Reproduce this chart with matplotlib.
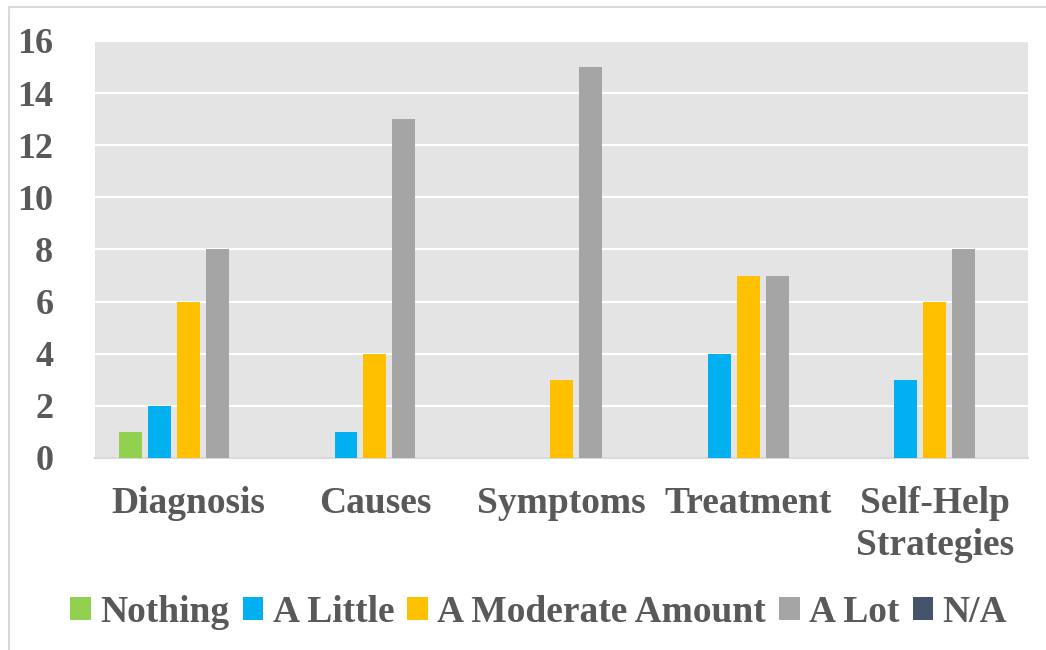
import numpy as np
import matplotlib.pyplot as plt
from matplotlib.patches import Rectangle

categories = ["Diagnosis", "Causes", "Symptoms", "Treatment", "Self-Help\nStrategies"]
series = ["Nothing", "A Little", "A Moderate Amount", "A Lot", "N/A"]
nothing = [1, 0, 0, 0, 0]
a_little = [2, 1, 0, 4, 3]
moderate = [6, 4, 3, 7, 6]
a_lot = [8, 13, 15, 7, 8]
na = [0, 0, 0, 0, 0]
colors = ["#92D050", "#00B0F0", "#FFC000", "#A5A5A5", "#44546A"]

plt.rcParams['font.family'] = ['Liberation Serif', 'DejaVu Serif']
plt.rcParams['font.weight'] = 'bold'
txt = "#595959"

fig = plt.figure(figsize=(10.46, 6.5), dpi=100)
ax = fig.add_axes([0.0908, 0.2954, 0.8922, 0.6416])
ax.set_facecolor("#E4E4E4")

x = np.arange(len(categories))
w = 0.123
step = 0.155
data = [nothing, a_little, moderate, a_lot, na]
for i, vals in enumerate(data):
    ax.bar(x + (i - 2) * step, vals, w, color=colors[i], label=series[i], zorder=3)

ax.set_xlim(-0.5, 4.5)
ax.set_ylim(0, 16)
ax.set_yticks(range(0, 17, 2))
ax.yaxis.grid(True, color="white", linewidth=1.5, zorder=1)
ax.set_axisbelow(True)
for s in ["top", "right", "left"]:
    ax.spines[s].set_visible(False)
ax.spines["bottom"].set_color("#D9D9D9")
ax.spines["bottom"].set_linewidth(1.5)
ax.tick_params(length=0)
ax.tick_params(axis="y", labelsize=26, labelcolor=txt, pad=30)
ax.tick_params(axis="x", labelsize=27, labelcolor=txt, pad=20)
ax.set_xticks(x)
ax.set_xticklabels(categories, linespacing=1.25)

fig.legend(loc="center", bbox_to_anchor=(0.515, 0.058), ncol=5, frameon=False,
           fontsize=27, labelcolor=txt, handlelength=0.55, handleheight=0.55,
           handletextpad=0.25, columnspacing=0.35)

fig.patches.append(Rectangle((0.009, -0.01), 1.1, 1.0, transform=fig.transFigure,
                             fill=False, edgecolor="#D9D9D9", linewidth=1.5))

fig.savefig("out.png")
